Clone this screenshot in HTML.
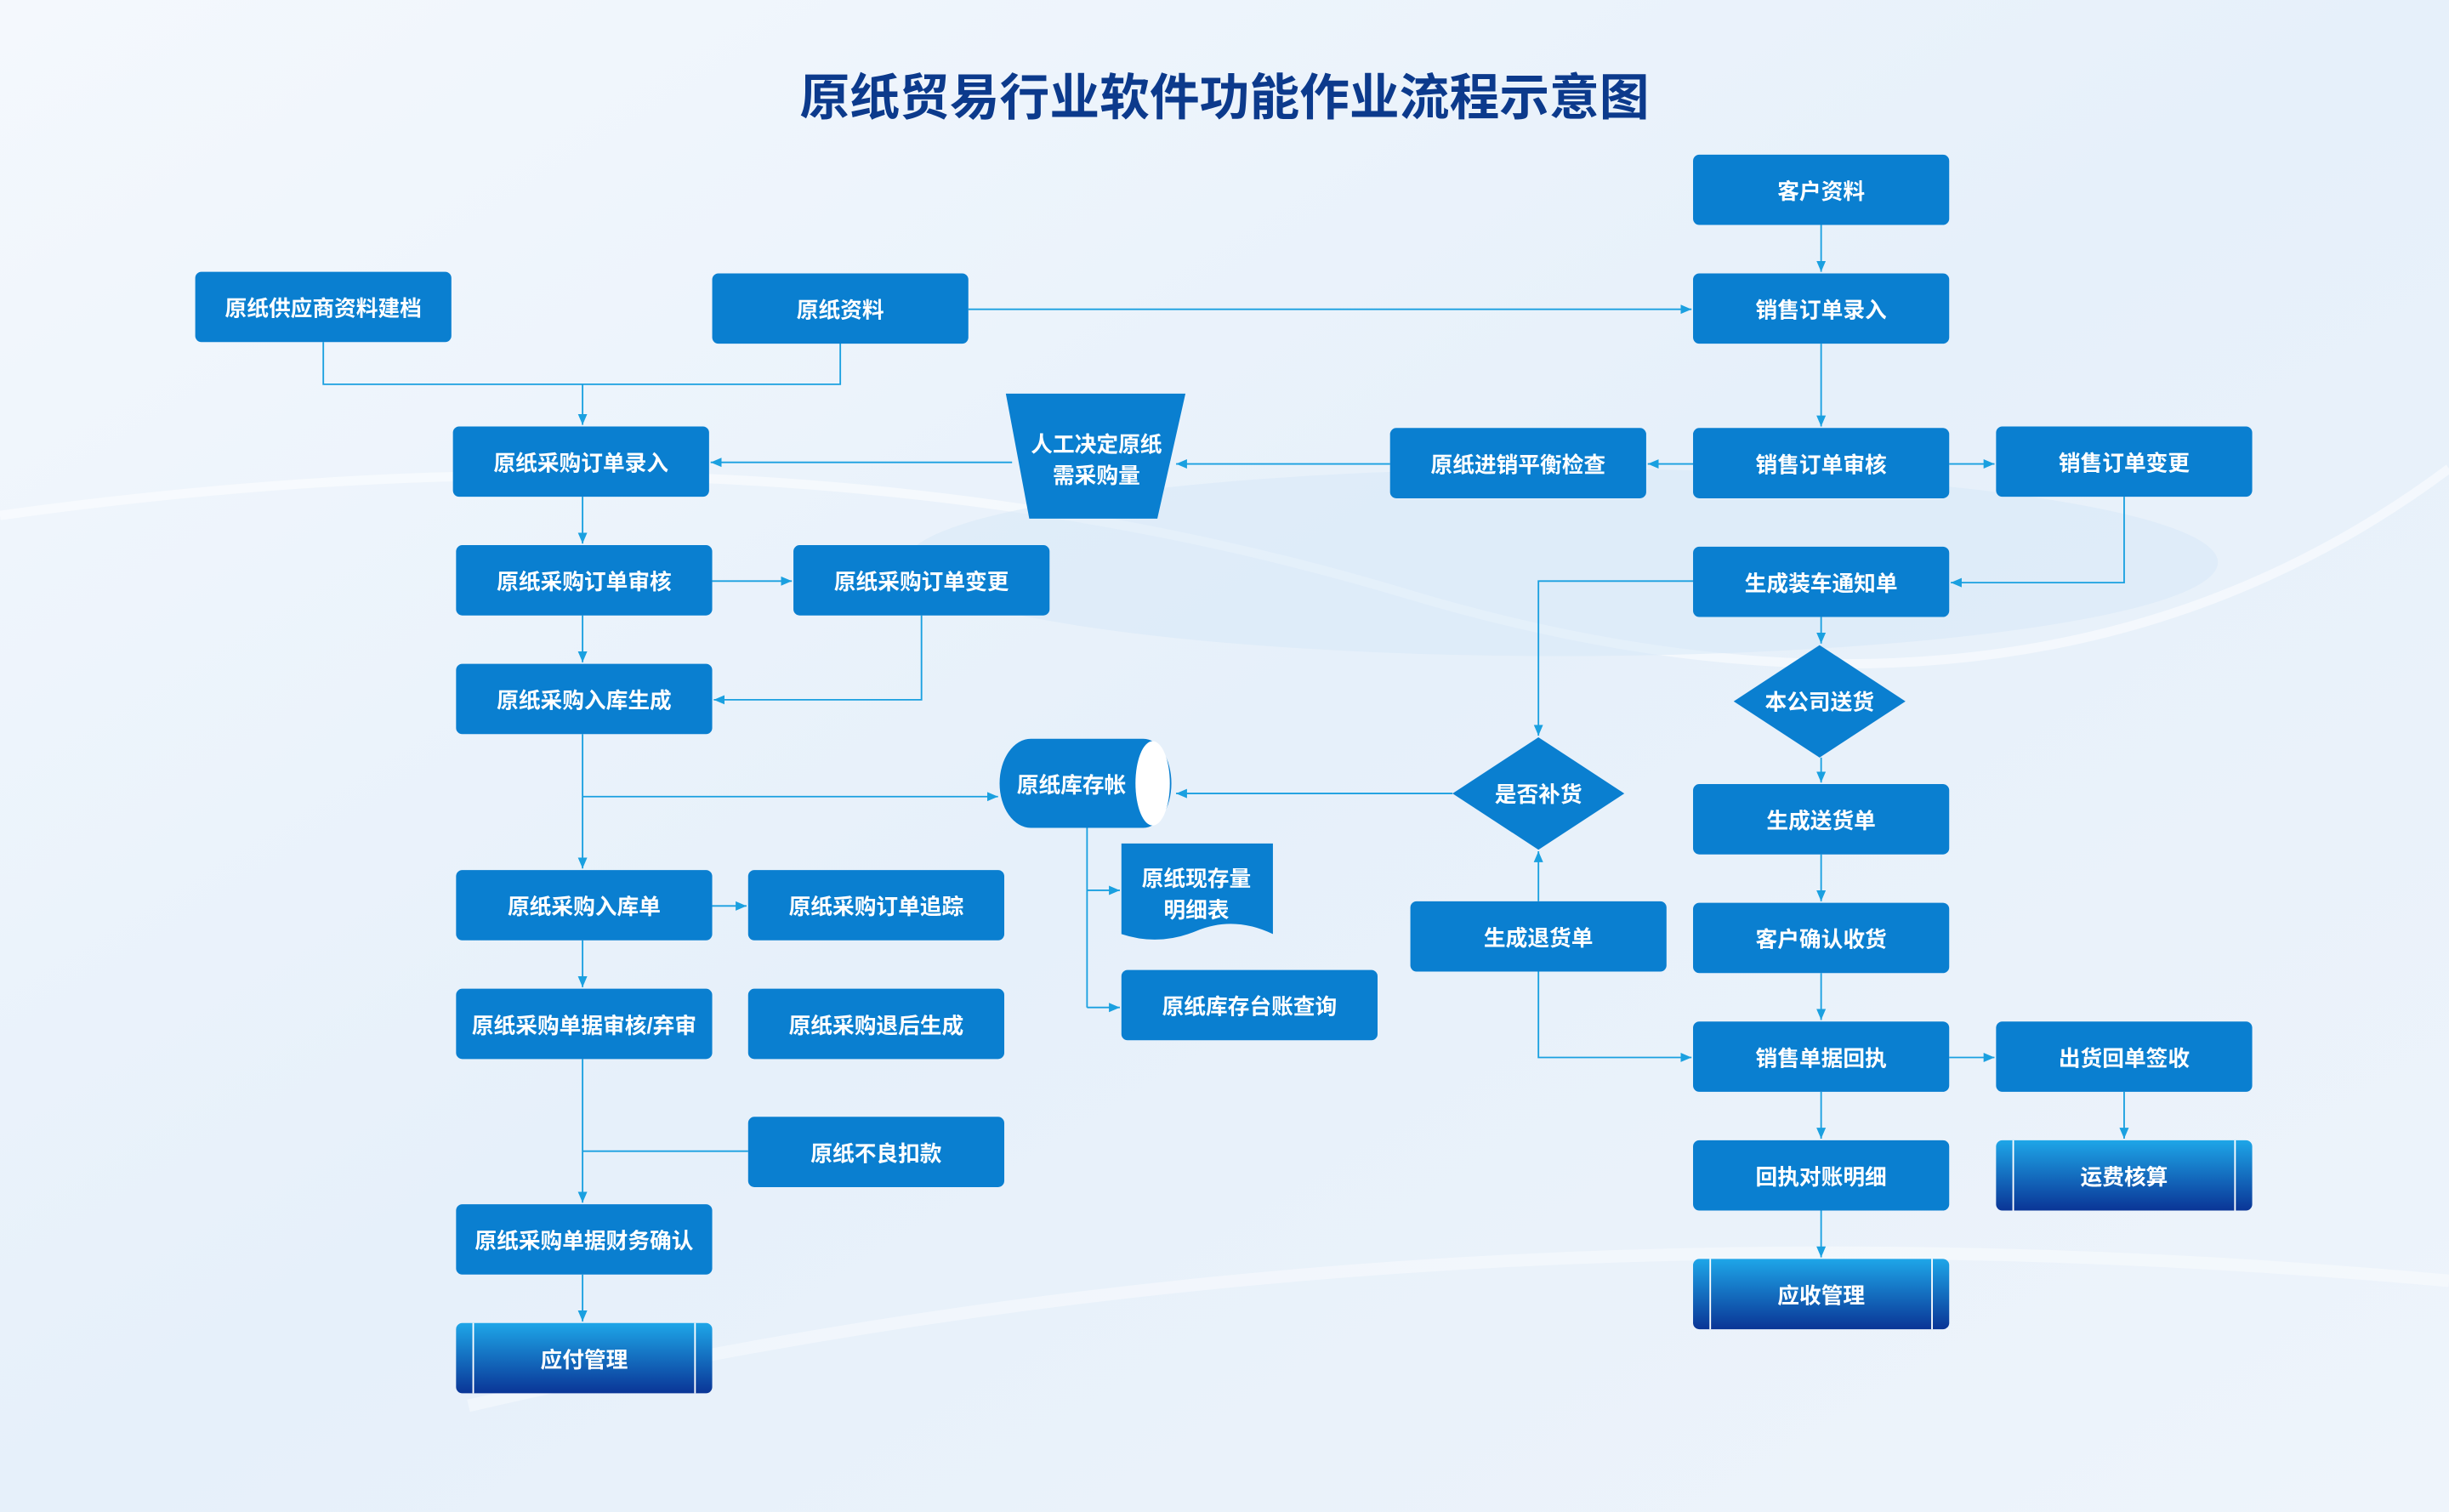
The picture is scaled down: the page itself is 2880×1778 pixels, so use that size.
<!DOCTYPE html>
<html><head><meta charset="utf-8">
<style>
html,body{margin:0;padding:0;width:2880px;height:1778px;overflow:hidden;background:#eef4fb}
svg{display:block}
text{font-family:"Liberation Sans","Noto Sans CJK SC",sans-serif;font-weight:bold;fill:#fff;text-anchor:middle;dominant-baseline:central}
</style></head><body>
<svg width="2880" height="1778" viewBox="0 0 1568 968" xmlns="http://www.w3.org/2000/svg">
<defs>
<linearGradient id="bg" x1="0" y1="0" x2="1" y2="1">
<stop offset="0" stop-color="#f4f8fd"/><stop offset="0.5" stop-color="#e6f0fa"/><stop offset="1" stop-color="#eef4fb"/>
</linearGradient>
<linearGradient id="gb" x1="0" y1="0" x2="0" y2="1">
<stop offset="0" stop-color="#1ea6e8"/><stop offset="1" stop-color="#0a3596"/>
</linearGradient>
<marker id="a" markerWidth="8" markerHeight="8" refX="7" refY="4" orient="auto" markerUnits="userSpaceOnUse">
<path d="M0,1 L7,4 L0,7 Z" fill="#1aa0e0"/>
</marker>
</defs>
<rect width="1568" height="968" fill="url(#bg)"/>
<path d="M0,330 Q500,260 900,380 T1568,300" stroke="#fff" stroke-width="6" fill="none" opacity="0.5"/>
<path d="M300,900 Q900,760 1568,820" stroke="#fff" stroke-width="8" fill="none" opacity="0.4"/>
<ellipse cx="1000" cy="360" rx="420" ry="60" fill="#d6e7f7" opacity="0.5"/>

<text x="784" y="63" style="fill:#0c3a8c;font-size:32px">原纸贸易行业软件功能作业流程示意图</text>

<g stroke="#1aa0e0" stroke-width="1" fill="none">
<path d="M1166,144V174" marker-end="url(#a)"/>
<path d="M620,198H1083" marker-end="url(#a)"/>
<path d="M207,219V246H538V219" />
<path d="M373,246V272" marker-end="url(#a)"/>
<path d="M1166,220V273" marker-end="url(#a)"/>
<path d="M1084,297H1055" marker-end="url(#a)"/>
<path d="M1248,297H1277" marker-end="url(#a)"/>
<path d="M890,297H753" marker-end="url(#a)"/>
<path d="M648,296H455" marker-end="url(#a)"/>
<path d="M373,318V348" marker-end="url(#a)"/>
<path d="M456,372H507" marker-end="url(#a)"/>
<path d="M373,394V424" marker-end="url(#a)"/>
<path d="M590,394V448H457" marker-end="url(#a)"/>
<path d="M373,470V556" marker-end="url(#a)"/>
<path d="M373,510H639" marker-end="url(#a)"/>
<path d="M456,580H478" marker-end="url(#a)"/>
<path d="M373,602V632" marker-end="url(#a)"/>
<path d="M373,678V770" marker-end="url(#a)"/>
<path d="M479,737H373"/>
<path d="M373,816V846" marker-end="url(#a)"/>
<path d="M696,530V645"/>
<path d="M696,570H717" marker-end="url(#a)"/>
<path d="M696,645H717" marker-end="url(#a)"/>
<path d="M930,508H753" marker-end="url(#a)"/>
<path d="M1084,372H985V471" marker-end="url(#a)"/>
<path d="M1360,318V373H1249" marker-end="url(#a)"/>
<path d="M1166,395V412" marker-end="url(#a)"/>
<path d="M1166,485V501" marker-end="url(#a)"/>
<path d="M1166,547V577" marker-end="url(#a)"/>
<path d="M1166,623V653" marker-end="url(#a)"/>
<path d="M985,577V545" marker-end="url(#a)"/>
<path d="M985,622V677H1083" marker-end="url(#a)"/>
<path d="M1248,677H1277" marker-end="url(#a)"/>
<path d="M1166,699V729" marker-end="url(#a)"/>
<path d="M1360,699V729" marker-end="url(#a)"/>
<path d="M1166,775V805" marker-end="url(#a)"/>
</g>

<g fill="#0a7fd0" style="font-size:14px">
<rect x="1084" y="99" width="164" height="45" rx="4"/><text x="1166" y="123">客户资料</text>
<rect x="1084" y="175" width="164" height="45" rx="4"/><text x="1166" y="199">销售订单录入</text>
<rect x="125" y="174" width="164" height="45" rx="4"/><text x="207" y="198">原纸供应商资料建档</text>
<rect x="456" y="175" width="164" height="45" rx="4"/><text x="538" y="199">原纸资料</text>
<rect x="290" y="273" width="164" height="45" rx="4"/><text x="372" y="297">原纸采购订单录入</text>
<polygon points="644,252 759,252 741,332 659,332"/><text x="702" y="285">人工决定原纸</text><text x="702" y="305">需采购量</text>
<rect x="890" y="274" width="164" height="45" rx="4"/><text x="972" y="298">原纸进销平衡检查</text>
<rect x="1084" y="274" width="164" height="45" rx="4"/><text x="1166" y="298">销售订单审核</text>
<rect x="1278" y="273" width="164" height="45" rx="4"/><text x="1360" y="297">销售订单变更</text>
<rect x="292" y="349" width="164" height="45" rx="4"/><text x="374" y="373">原纸采购订单审核</text>
<rect x="508" y="349" width="164" height="45" rx="4"/><text x="590" y="373">原纸采购订单变更</text>
<rect x="1084" y="350" width="164" height="45" rx="4"/><text x="1166" y="374">生成装车通知单</text>
<rect x="292" y="425" width="164" height="45" rx="4"/><text x="374" y="449">原纸采购入库生成</text>
<polygon points="1165,413 1220,449 1165,485 1110,449"/><text x="1165" y="450">本公司送货</text>
<path d="M660,473 H732 A18,28.5 0 0 1 732,530 H660 A20,28.5 0 0 1 660,473 Z"/>
<ellipse cx="738" cy="501.5" rx="11" ry="27" fill="#fff"/>
<text x="686" y="503">原纸库存帐</text>
<polygon points="985,472 1040,508 985,544 930,508"/><text x="985" y="509">是否补货</text>
<rect x="1084" y="502" width="164" height="45" rx="4"/><text x="1166" y="526">生成送货单</text>
<rect x="292" y="557" width="164" height="45" rx="4"/><text x="374" y="581">原纸采购入库单</text>
<rect x="479" y="557" width="164" height="45" rx="4"/><text x="561" y="581">原纸采购订单追踪</text>
<path d="M718,540 H815 V598 Q790,586 766,596 Q742,606 718,598 Z"/><text x="766" y="563">原纸现存量</text><text x="766" y="583">明细表</text>
<rect x="903" y="577" width="164" height="45" rx="4"/><text x="985" y="601">生成退货单</text>
<rect x="1084" y="578" width="164" height="45" rx="4"/><text x="1166" y="602">客户确认收货</text>
<rect x="292" y="633" width="164" height="45" rx="4"/><text x="374" y="657">原纸采购单据审核/弃审</text>
<rect x="479" y="633" width="164" height="45" rx="4"/><text x="561" y="657">原纸采购退后生成</text>
<rect x="718" y="621" width="164" height="45" rx="4"/><text x="800" y="645">原纸库存台账查询</text>
<rect x="1084" y="654" width="164" height="45" rx="4"/><text x="1166" y="678">销售单据回执</text>
<rect x="1278" y="654" width="164" height="45" rx="4"/><text x="1360" y="678">出货回单签收</text>
<rect x="479" y="715" width="164" height="45" rx="4"/><text x="561" y="739">原纸不良扣款</text>
<rect x="1084" y="730" width="164" height="45" rx="4"/><text x="1166" y="754">回执对账明细</text>
<rect x="292" y="771" width="164" height="45" rx="4"/><text x="374" y="795">原纸采购单据财务确认</text>
</g>
<g fill="url(#gb)">
<rect x="1278" y="730" width="164" height="45" rx="4"/>
<rect x="1084" y="806" width="164" height="45" rx="4"/>
<rect x="292" y="847" width="164" height="45" rx="4"/>
</g>
<g stroke="#fff" stroke-width="1">
<path d="M1289,730V775M1431,730V775M1095,806V851M1237,806V851M303,847V892M445,847V892"/>
</g>
<g style="font-size:14px">
<text x="1360" y="754">运费核算</text>
<text x="1166" y="830">应收管理</text>
<text x="374" y="871">应付管理</text>
</g>
</svg>
</body></html>
